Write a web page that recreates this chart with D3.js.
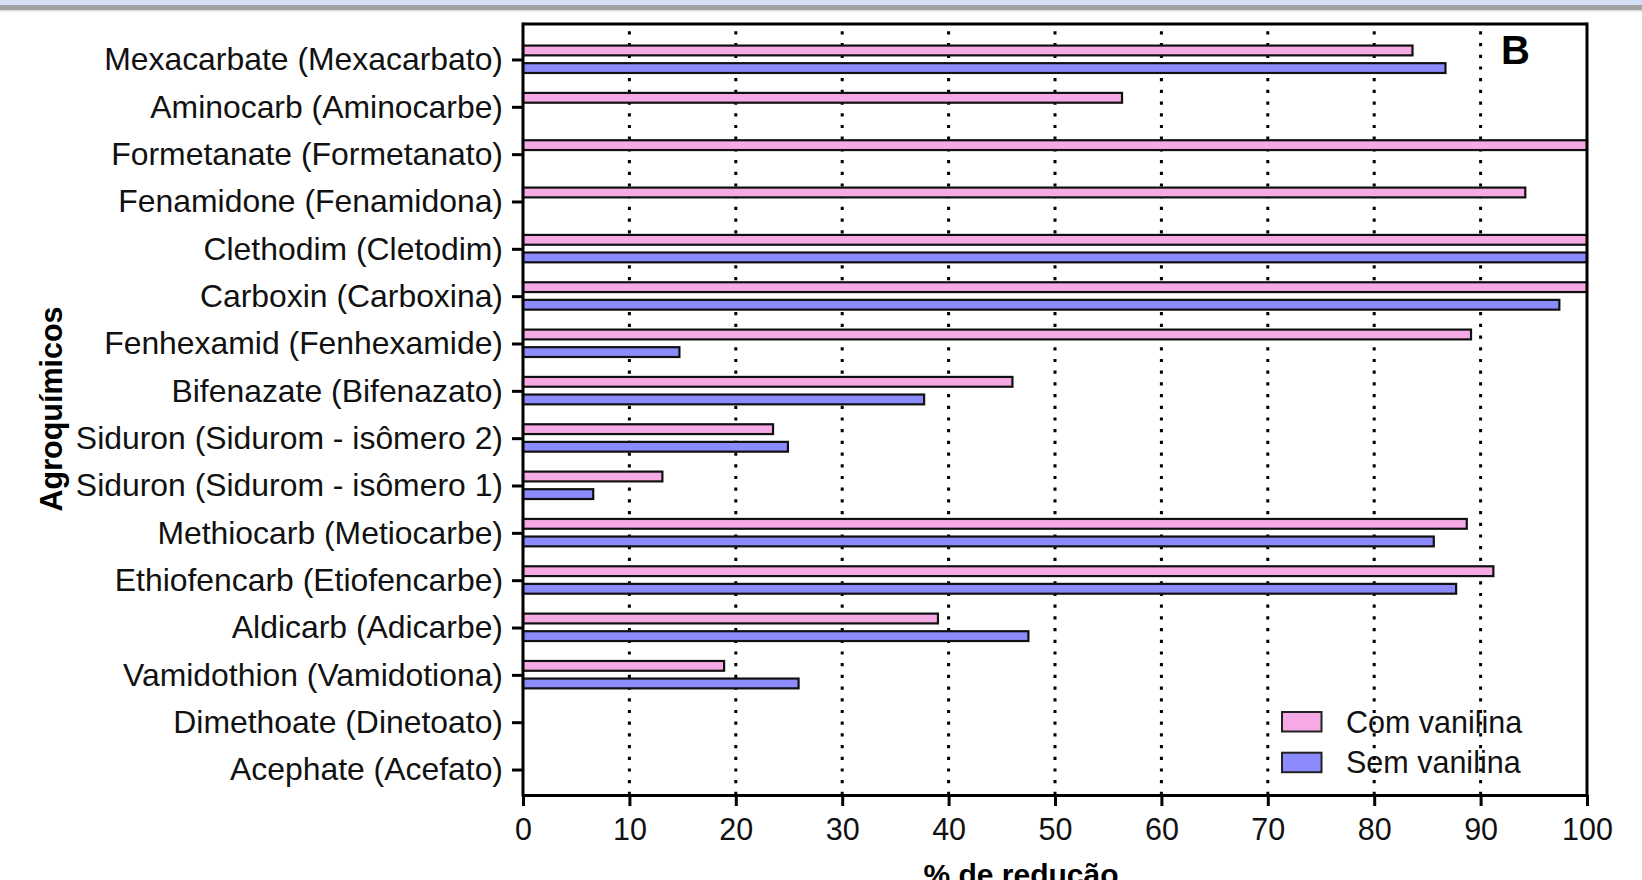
<!DOCTYPE html>
<html>
<head>
<meta charset="utf-8">
<script src="https://cdn.jsdelivr.net/npm/d3@7"></script>
<style>
  html, body { margin: 0; padding: 0; background: #fff; }
  svg { display: block; }
</style>
</head>
<body>
<svg id="chart" width="1642" height="880"></svg>
<script>
const categories = [
  "Mexacarbate (Mexacarbato)",
  "Aminocarb (Aminocarbe)",
  "Formetanate (Formetanato)",
  "Fenamidone (Fenamidona)",
  "Clethodim (Cletodim)",
  "Carboxin (Carboxina)",
  "Fenhexamid (Fenhexamide)",
  "Bifenazate (Bifenazato)",
  "Siduron (Sidurom - isômero 2)",
  "Siduron (Sidurom - isômero 1)",
  "Methiocarb (Metiocarbe)",
  "Ethiofencarb (Etiofencarbe)",
  "Aldicarb (Adicarbe)",
  "Vamidothion (Vamidotiona)",
  "Dimethoate (Dinetoato)",
  "Acephate (Acefato)"
];
const comVanilina = [83.6, 56.3, 100, 94.2, 100, 100, 89.1, 46.0, 23.5, 13.1, 88.7, 91.2, 39.0, 18.9, null, null];
const semVanilina = [86.7, null, null, null, 100, 97.4, 14.7, 37.7, 24.9, 6.6, 85.6, 87.7, 47.5, 25.9, null, null];
const seriesNames = ["Com vanilina", "Sem vanilina"];
const xTicks = [0, 10, 20, 30, 40, 50, 60, 70, 80, 90, 100];
const xTitle = "% de redução";
const yTitle = "Agroquímicos";
const panelLabel = "B";

const colors = ["#f5aae6", "#8b8bfd"];
const FONT = "'Liberation Sans', Arial, Helvetica, sans-serif";

const svg = d3.select("#chart");

// top decorative band
svg.append("rect").attr("x", 0).attr("y", 0).attr("width", 1642).attr("height", 5).attr("fill", "#d3dff5");
svg.append("rect").attr("x", 0).attr("y", 5).attr("width", 1642).attr("height", 5).attr("fill", "#a2a2a2");
svg.append("rect").attr("x", 0).attr("y", 10).attr("width", 1642).attr("height", 1.5).attr("fill", "#dcdcdc");

const pLeft = 523, pRight = 1587, pTop = 24, pBottom = 795;

const x = d3.scaleLinear().domain([0, 100]).range([pLeft, pRight]);
const y = d3.scaleBand().domain(categories).range([36.3, 793.7]).paddingInner(0).paddingOuter(0);
const yc = c => y(c) + y.bandwidth() / 2;

// legend (drawn beneath gridlines, as in reference)
const legend = svg.append("g");
seriesNames.forEach((name, i) => {
  const ly = 712 + i * 40.7;
  legend.append("rect")
    .attr("x", 1282).attr("y", ly)
    .attr("width", 39.5).attr("height", 19.5)
    .attr("fill", colors[i]).attr("stroke", "#222").attr("stroke-width", 2);
  legend.append("text")
    .attr("x", 1346).attr("y", ly + 20.5)
    .attr("font-family", FONT).attr("font-size", 30.5)
    .attr("fill", "#111")
    .text(name);
});

// dotted gridlines
svg.append("g").selectAll("line")
  .data(xTicks.filter(t => t > 0 && t < 100))
  .join("line")
  .attr("x1", d => x(d)).attr("x2", d => x(d))
  .attr("y1", pBottom).attr("y2", pTop)
  .attr("stroke", "#000").attr("stroke-width", 3)
  .attr("stroke-dasharray", "3.2 8.5");

// bars
const barData = [];
categories.forEach((c, i) => {
  if (comVanilina[i] != null) barData.push({ c, v: comVanilina[i], s: 0 });
  if (semVanilina[i] != null) barData.push({ c, v: semVanilina[i], s: 1 });
});
svg.append("g").selectAll("rect")
  .data(barData)
  .join("rect")
  .attr("x", x(0))
  .attr("y", d => d.s === 0 ? yc(d.c) - 14.4 : yc(d.c) + 3.2)
  .attr("width", d => x(d.v) - x(0))
  .attr("height", 9.8)
  .attr("fill", d => colors[d.s])
  .attr("stroke", "#111")
  .attr("stroke-width", 2.2);

// frame: top and right borders
svg.append("line").attr("x1", pLeft).attr("x2", pRight).attr("y1", pTop).attr("y2", pTop)
  .attr("stroke", "#000").attr("stroke-width", 3);
svg.append("line").attr("x1", pRight).attr("x2", pRight).attr("y1", pTop - 1.5).attr("y2", pBottom)
  .attr("stroke", "#000").attr("stroke-width", 3);

// x axis
const xAxis = svg.append("g")
  .attr("transform", `translate(0,${pBottom})`)
  .call(d3.axisBottom(x).tickValues(xTicks).tickSize(11).tickPadding(12).tickSizeOuter(0));
xAxis.select(".domain").attr("stroke", "#000").attr("stroke-width", 3);
xAxis.selectAll(".tick line").attr("stroke", "#000").attr("stroke-width", 3);
xAxis.selectAll(".tick text").attr("font-family", FONT).attr("font-size", 30.5).attr("fill", "#111");

// y axis
const yAxis = svg.append("g")
  .attr("transform", `translate(${pLeft},0)`)
  .call(d3.axisLeft(y).tickSize(11).tickPadding(9).tickSizeOuter(0));
yAxis.select(".domain").attr("d", `M0,${pTop - 1.5}V${pBottom + 1.5}`).attr("stroke", "#000").attr("stroke-width", 3);
yAxis.selectAll(".tick line").attr("stroke", "#000").attr("stroke-width", 3);
yAxis.selectAll(".tick text").attr("font-family", FONT).attr("font-size", 31.9).attr("fill", "#111");

// titles
svg.append("text")
  .attr("x", 1021).attr("y", 885)
  .attr("text-anchor", "middle")
  .attr("font-family", FONT).attr("font-size", 30).attr("font-weight", "bold")
  .text(xTitle);
svg.append("text")
  .attr("transform", "translate(62,409) rotate(-90)")
  .attr("text-anchor", "middle")
  .attr("font-family", FONT).attr("font-size", 30.5).attr("font-weight", "bold")
  .text(yTitle);
svg.append("text")
  .attr("x", 1501).attr("y", 64)
  .attr("font-family", FONT).attr("font-size", 40).attr("font-weight", "bold")
  .text(panelLabel);
</script>
</body>
</html>
